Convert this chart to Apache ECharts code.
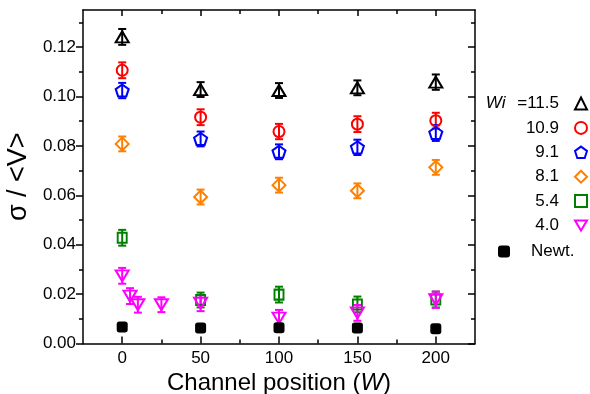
<!DOCTYPE html>
<html>
<head>
<meta charset="utf-8">
<script src="https://cdn.jsdelivr.net/npm/echarts@6/dist/echarts.min.js"></script>
<style>
  html, body { margin: 0; padding: 0; background: #fff; }
  #chart { width: 590px; height: 394px; }
</style>
</head>
<body>
<div id="chart"></div>
<script>
// data
const positions = [0, 50, 100, 150, 200];
const positions40 = [0, 5, 10, 25, 50, 100, 150, 200];

const wi115 = [0.1241, 0.1028, 0.1024, 0.1035, 0.1058];
const wi109 = [0.1106, 0.0916, 0.0858, 0.0888, 0.0902];
const wi91 = [0.1024, 0.0828, 0.0776, 0.0794, 0.0852];
const wi81 = [0.0808, 0.0593, 0.0641, 0.0618, 0.0713];
const wi54 = [0.0428, 0.0176, 0.0198, 0.0158, 0.0178];
const wi40 = [0.0274, 0.0192, 0.0157, 0.0157, 0.0163, 0.0103, 0.0124, 0.0177];
const newt = [0.0067, 0.0063, 0.0064, 0.0063, 0.0060];

const err115 = [0.0032, 0.0030, 0.0030, 0.0030, 0.0031];
const err109 = [0.0032, 0.0032, 0.0031, 0.0032, 0.0032];
const err91 = [0.0031, 0.0030, 0.0030, 0.0031, 0.0032];
const err81 = [0.0030, 0.0030, 0.0030, 0.0030, 0.0030];
const err54 = [0.0032, 0.0030, 0.0032, 0.0032, 0.0032];
const err40 = [0.0032, 0.0032, 0.0032, 0.0030, 0.0032, 0.0033, 0.0032, 0.0033];

const xMajor = [0, 50, 100, 150, 200];
const xMinor = [25, 75, 125, 175];
const yMajor = [0, 0.02, 0.04, 0.06, 0.08, 0.1, 0.12];
const yMinor = [0.01, 0.03, 0.05, 0.07, 0.09, 0.11, 0.13];

const FONT = "Liberation Sans";
const pentagon = "path://M0,-10 L9.51,-3.09 L5.88,8.09 L-5.88,8.09 L-9.51,-3.09 Z";
const triDown = "path://M-10,-8 L10,-8 L0,9 Z";

const chart = echarts.init(document.getElementById("chart"));

function pairs(xs, ys) {
  return xs.map((x, i) => [x, ys[i]]);
}

function errSeries(xs, ys, es, color) {
  return {
    type: "custom",
    silent: true,
    z: 1,
    data: xs.map((x, i) => [x, ys[i], es[i]]),
    encode: { x: 0, y: 1 },
    renderItem: (params, api) => {
      const x = api.value(0);
      const y = api.value(1);
      const e = api.value(2);
      const lo = api.coord([x, y - e]);
      const hi = api.coord([x, y + e]);
      const style = { stroke: color, lineWidth: 2 };
      return {
        type: "group",
        children: [
          { type: "line", shape: { x1: lo[0], y1: lo[1], x2: hi[0], y2: hi[1] }, style },
          { type: "line", shape: { x1: lo[0] - 4, y1: lo[1], x2: lo[0] + 4, y2: lo[1] }, style },
          { type: "line", shape: { x1: hi[0] - 4, y1: hi[1], x2: hi[0] + 4, y2: hi[1] }, style },
        ],
      };
    },
  };
}

function hollow(name, xs, ys, symbol, size, color) {
  return {
    name: name,
    type: "scatter",
    z: 3,
    symbol: symbol,
    symbolSize: size,
    data: pairs(xs, ys),
    itemStyle: { color: "rgba(255,255,255,0)", borderColor: color, borderWidth: 2, opacity: 1 },
  };
}

function xAxisCfg(pos, ticks, len, showLine, showLabel) {
  return {
    type: "value",
    position: pos,
    min: -25,
    max: 225,
    axisLine: { show: showLine, onZero: false, lineStyle: { color: "#000", width: 1.5 } },
    axisTick: { show: true, inside: true, length: len, customValues: ticks, lineStyle: { color: "#000", width: 1.5 } },
    axisLabel: { show: showLabel, customValues: xMajor, color: "#000", fontSize: 17, fontFamily: FONT, margin: 6 },
    splitLine: { show: false },
  };
}

function yAxisCfg(pos, ticks, len, inside, showLine, showLabel) {
  return {
    type: "value",
    position: pos,
    min: 0,
    max: 0.135,
    axisLine: { show: showLine, onZero: false, lineStyle: { color: "#000", width: 1.5 } },
    axisTick: { show: true, inside: inside, length: len, customValues: ticks, lineStyle: { color: "#000", width: 1.5 } },
    axisLabel: {
      show: showLabel,
      customValues: yMajor,
      color: "#000",
      fontSize: 17,
      fontFamily: FONT,
      margin: 7,
      formatter: (v) => v.toFixed(2),
    },
    splitLine: { show: false },
  };
}

const xBottom = xAxisCfg("bottom", xMajor, 7, true, true);
xBottom.name = "Channel position ({i|W})";
xBottom.nameLocation = "middle";
xBottom.nameGap = 20;
xBottom.nameTextStyle = {
  color: "#000",
  fontSize: 24,
  fontFamily: FONT,
  rich: { i: { fontStyle: "italic", fontSize: 24, fontFamily: FONT, color: "#000" } },
};

const yLeft = yAxisCfg("left", yMajor, 7, false, true, true);
yLeft.name = "σ / <V>";
yLeft.nameLocation = "middle";
yLeft.nameGap = 50;
yLeft.nameTextStyle = { color: "#000", fontSize: 27, fontFamily: FONT };

const option = {
  backgroundColor: "#fff",
  animation: false,
  grid: { left: 83, right: 115, top: 10, bottom: 50.5, outerBoundsMode: "none", containLabel: false },
  xAxis: [
    xBottom,
    xAxisCfg("bottom", xMinor, 4, false, false),
    xAxisCfg("top", xMajor, 6, true, false),
    xAxisCfg("top", xMinor, 4, false, false),
  ],
  yAxis: [
    yLeft,
    yAxisCfg("left", yMinor, 4, false, false, false),
    yAxisCfg("right", yMajor, 7, true, true, false),
    yAxisCfg("right", yMinor, 4, true, false, false),
  ],
  legend: [
    {
      orient: "vertical",
      align: "right",
      right: 2,
      top: 95,
      padding: 0,
      itemWidth: 12,
      itemHeight: 12,
      itemGap: 7.4,
      data: ["11.5", "10.9", "9.1", "8.1", "5.4", "4.0"],
      formatter: (name) => (name === "11.5" ? "{i|Wi} =11.5" : name),
      textStyle: {
        color: "#000",
        fontSize: 17,
        fontFamily: FONT,
        padding: [0, 11, 0, 0],
        rich: { i: { fontStyle: "italic", fontSize: 17, fontFamily: FONT, color: "#000", padding: [0, 7, 0, 0] } },
      },
    },
    {
      orient: "vertical",
      align: "left",
      left: 498,
      top: 243,
      padding: 0,
      itemWidth: 12,
      itemHeight: 12,
      data: ["Newt."],
      textStyle: { color: "#000", fontSize: 17, fontFamily: FONT, padding: [0, 0, 0, 16] },
    },
  ],
  series: [
    errSeries(positions, wi115, err115, "#000"),
    errSeries(positions, wi109, err109, "#ff0000"),
    errSeries(positions, wi91, err91, "#0000ff"),
    errSeries(positions, wi81, err81, "#ff8000"),
    errSeries(positions, wi54, err54, "#008000"),
    errSeries(positions40, wi40, err40, "#ff00ff"),
    hollow("11.5", positions, wi115, "triangle", [13, 11], "#000"),
    hollow("10.9", positions, wi109, "circle", 11, "#ff0000"),
    hollow("9.1", positions, wi91, pentagon, [13, 12], "#0000ff"),
    hollow("8.1", positions, wi81, "diamond", [13, 13], "#ff8000"),
    hollow("5.4", positions, wi54, "rect", [9, 10], "#008000"),
    hollow("4.0", positions40, wi40, triDown, [13, 11], "#ff00ff"),
    {
      name: "Newt.",
      type: "scatter",
      z: 4,
      symbol: "roundRect",
      symbolSize: 11,
      data: pairs(positions, newt),
      itemStyle: { color: "#000", opacity: 1 },
    },
  ],
};

chart.setOption(option);
</script>
</body>
</html>
